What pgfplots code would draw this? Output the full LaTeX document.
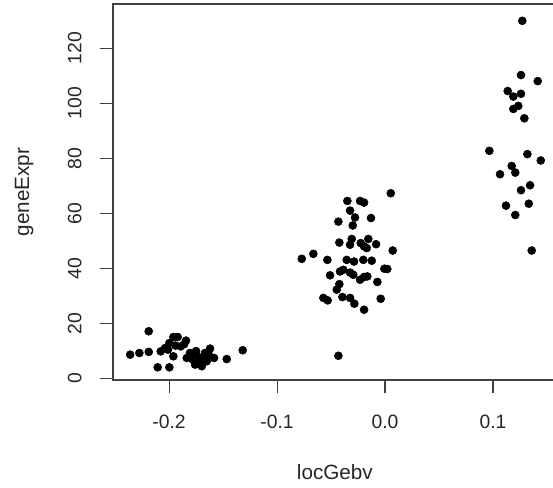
\documentclass[border=0pt]{standalone}
\usepackage{pgfplots}
\pgfplotsset{compat=1.18}
\usepackage{fontspec}
\setmainfont{Liberation Sans}

\begin{document}
\begin{tikzpicture}
\begin{axis}[
    scale only axis,
    width=332.8pt, height=282pt,
    xmin=-0.2519, xmax=0.159,
    ymin=-0.5, ymax=136,
    xtick={-0.2,-0.1,0,0.1},
    xticklabels={-0.2,-0.1,0.0,0.1},
    ytick={0,20,40,60,80,100,120},
    tick align=outside,
    major tick length=10pt,
    xtick pos=bottom, ytick pos=left,
    axis line style={black!75, line width=0.8pt},
    every tick/.style={black!75, line width=0.8pt},
    tick label style={font=\fontsize{14.5}{16}\selectfont, text=black!85},
    /pgf/number format/assume math mode=true,
    xticklabel style={anchor=north, yshift=-13pt},
    yticklabel style={rotate=90, anchor=south, yshift=10pt},
    xlabel={locGebv},
    ylabel={geneExpr},
    label style={font=\fontsize{15.5}{18}\selectfont, text=black!85},
    xlabel style={at={(axis description cs:0.5,-0.245)}, anchor=center},
    ylabel style={at={(axis description cs:-0.2,0.5)}, anchor=center, rotate=0},
    clip=false,
]
\addplot[only marks, mark=*, mark size=3pt, black] coordinates {
    (-0.236,8.7) (-0.2275,9.3) (-0.2188,9.7) (-0.2188,17.2) (-0.2105,4.1)
    (-0.2077,9.9) (-0.2037,11.1) (-0.1997,12.9) (-0.1997,4.1) (-0.196,15.1)
    (-0.196,8.1) (-0.192,15.1) (-0.1892,11.7) (-0.1843,13.8) (-0.1836,7.5)
    (-0.1806,9.3) (-0.178,6.9) (-0.1759,5.1) (-0.1738,8.1) (-0.1713,6.3)
    (-0.1697,4.5) (-0.1667,9.3) (-0.1651,6.3) (-0.162,10.9) (-0.1583,7.5)
    (-0.1466,7.1) (-0.1318,10.3) (-0.186,12.5) (-0.178,8.5) (-0.172,5.5)
    (-0.168,7.5) (-0.175,10) (-0.194,12) (-0.201,10.5) (-0.163,8.5)
};
\addplot[only marks, mark=*, mark size=3pt, black] coordinates {
    (0.0053,67.3) (-0.0349,64.5) (-0.0231,64.5) (-0.0194,63.9) (-0.0324,61.0)
    (-0.0432,57.0) (-0.0278,58.5) (-0.0299,55.6) (-0.013,58.3) (-0.0423,49.4)
    (-0.0308,50.7) (-0.0324,48.6) (-0.0225,49.2) (-0.0194,48.0) (-0.0169,47.4)
    (-0.0155,50.7) (-0.0083,48.8) (0.0071,46.5) (-0.0771,43.5) (-0.0664,45.3)
    (-0.0534,43.1) (-0.0355,43.1) (-0.0287,42.5) (-0.0201,43.1) (-0.0123,42.8)
    (-0.0006,39.9) (0.0021,39.8) (-0.0509,37.5) (-0.0417,38.9) (-0.0386,39.5)
    (-0.0324,38.5) (-0.0294,37.7) (-0.0231,35.9) (-0.0194,36.9) (-0.0164,37.1)
    (-0.0071,35.1) (-0.0423,34.3) (-0.0447,32.3) (-0.0571,29.3) (-0.0531,28.4)
    (-0.0395,29.6) (-0.0324,29.3) (-0.0284,27.2) (-0.0194,25.0) (-0.004,29.0)
    (-0.0432,8.3)
};
\addplot[only marks, mark=*, mark size=3pt, black] coordinates {
    (0.1271,129.9) (0.1259,110.2) (0.1414,108.0) (0.1136,104.4) (0.1188,102.4)
    (0.1259,103.4) (0.1188,97.9) (0.1234,99.0) (0.129,94.5) (0.0966,82.7)
    (0.1318,81.5) (0.1442,79.2) (0.1173,77.2) (0.1206,74.8) (0.1065,74.2)
    (0.1343,70.2) (0.1259,68.4) (0.112,62.8) (0.1331,63.5) (0.1206,59.4)
    (0.1358,46.5)
};
\end{axis}
\pgfresetboundingbox
\path[use as bounding box] (-84.75pt,-81pt) rectangle (330pt,285pt);
\end{tikzpicture}
\end{document}
